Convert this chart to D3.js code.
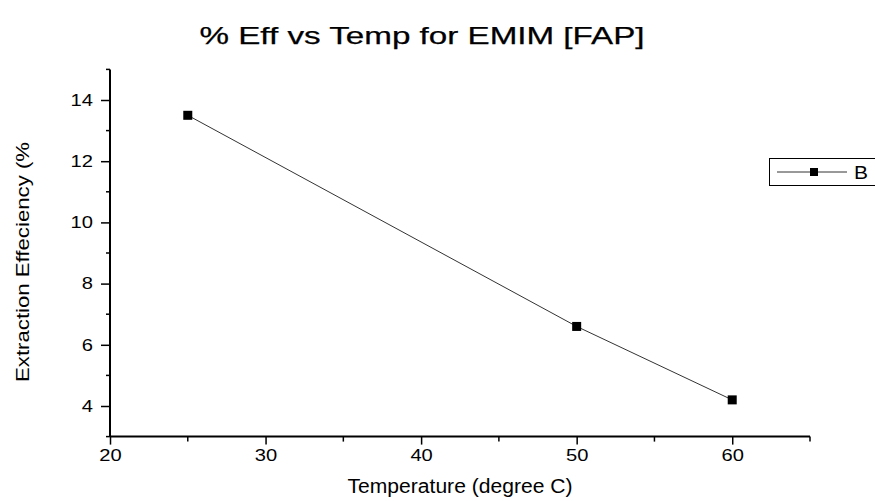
<!DOCTYPE html>
<html><head><meta charset="utf-8">
<script src="https://cdn.jsdelivr.net/npm/d3@7"></script>
<style>body{margin:0;background:#fff}svg{display:block}text{font-family:"Liberation Sans",Arial,sans-serif}</style>
</head><body>
<svg id="c" width="875" height="501"></svg>
<script>
const temps = [25, 50, 60];
const effs = [13.5, 6.6, 4.2];
const xTicks = [20, 30, 40, 50, 60];
const xMinor = [25, 35, 45, 55, 65];
const yTicks = [4, 6, 8, 10, 12, 14];
const yMinor = [3, 5, 7, 9, 11, 13, 15];
const seriesName = "B";
const title = "% Eff vs Temp for EMIM [FAP]";
const xLabel = "Temperature (degree C)";
const yLabel = "Extraction Effeciency (%";

const svg = d3.select("#c");
const x = d3.scaleLinear().domain([20, 65]).range([110, 810]);
const y = d3.scaleLinear().domain([3, 15]).range([436.6, 69.4]);

svg.append("text").attr("x", 422).attr("y", 44).attr("text-anchor", "middle")
  .attr("font-size", 24).attr("stroke", "#000").attr("stroke-width", 0.25)
  .attr("textLength", 445).attr("lengthAdjust", "spacingAndGlyphs").text(title);

// minor ticks
const gx = svg.append("g").attr("transform", `translate(0,${y(3)})`);
gx.selectAll("line.mi").data(xMinor).join("line").attr("x1", d => x(d)).attr("x2", d => x(d))
  .attr("y1", 0).attr("y2", 5).attr("stroke", "#000").attr("stroke-width", 1.5);
gx.call(d3.axisBottom(x).tickValues(xTicks).tickSize(8).tickPadding(5).tickFormat(d3.format("d")));
const gy = svg.append("g").attr("transform", `translate(${x(20)},0)`);
gy.selectAll("line.mi").data(yMinor).join("line").attr("y1", d => y(d)).attr("y2", d => y(d))
  .attr("x1", 0).attr("x2", -4).attr("stroke", "#000").attr("stroke-width", 1.5);
gy.call(d3.axisLeft(y).tickValues(yTicks).tickSize(9).tickPadding(8).tickFormat(d3.format("d")));
[gx, gy].forEach(g => {
  g.attr("font-size", 16.5).attr("font-family", "Liberation Sans, Arial, sans-serif");
  g.select(".domain").attr("stroke", "#000").attr("stroke-width", 2);
  g.selectAll(".tick line").attr("stroke", "#000").attr("stroke-width", 1.5);
  g.selectAll(".tick text").attr("fill", "#000").each(function() {
    const w = this.getComputedTextLength();
    d3.select(this).attr("textLength", w * 1.22).attr("lengthAdjust", "spacingAndGlyphs");
  });
});
gx.select(".domain").attr("d", `M${x(20)},0H${x(65)}`);
gy.select(".domain").attr("d", `M0,${y(3)}V${y(15)}`);

// line + markers
const pts = temps.map((t, i) => [t, effs[i]]);
svg.append("path").datum(pts).attr("fill", "none").attr("stroke", "#333").attr("stroke-width", 1)
  .attr("d", d3.line().x(d => x(d[0])).y(d => y(d[1])));
svg.selectAll("rect.pt").data(pts).join("rect").attr("class", "pt")
  .attr("x", d => x(d[0]) - 4.5).attr("y", d => y(d[1]) - 4.5).attr("width", 9).attr("height", 9).attr("fill", "#000");

// axis labels
svg.append("text").attr("x", 460).attr("y", 493).attr("text-anchor", "middle").attr("font-size", 20)
  .attr("textLength", 225).attr("lengthAdjust", "spacingAndGlyphs").text(xLabel);
svg.append("text").attr("transform", "translate(29,262) rotate(-90)").attr("text-anchor", "middle")
  .attr("font-size", 19).attr("textLength", 240).attr("lengthAdjust", "spacingAndGlyphs").text(yLabel);

// legend
const lg = svg.append("g");
lg.append("rect").attr("x", 769.5).attr("y", 158.5).attr("width", 120).attr("height", 27).attr("fill", "#fff").attr("stroke", "#000").attr("stroke-width", 1);
lg.append("line").attr("x1", 777).attr("x2", 847).attr("y1", 172).attr("y2", 172).attr("stroke", "#333").attr("stroke-width", 1);
lg.append("rect").attr("x", 810).attr("y", 168).attr("width", 8).attr("height", 8).attr("fill", "#000");
lg.append("text").attr("x", 854).attr("y", 179).attr("font-size", 19).attr("textLength", 14)
  .attr("lengthAdjust", "spacingAndGlyphs").text(seriesName);
</script>
</body></html>
